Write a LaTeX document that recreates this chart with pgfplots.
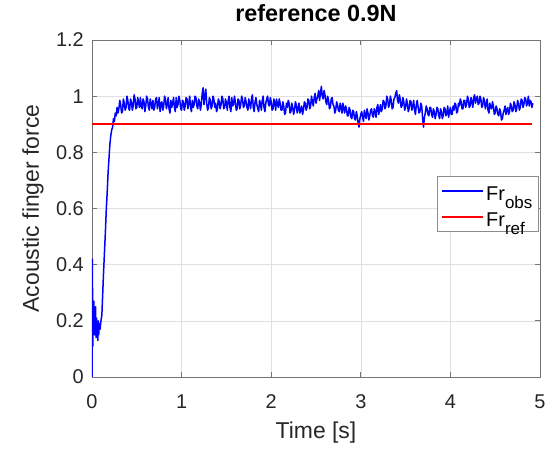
\documentclass[border=0pt]{standalone}
\usepackage{fontspec}
\setmainfont{Liberation Sans}
\usepackage{pgfplots}
\usepackage{pgfplotstable}
\pgfplotsset{compat=1.18}
\definecolor{mblue}{RGB}{0,0,255}
\definecolor{mred}{RGB}{255,0,0}
\pgfplotsset{legend image code/.code={\draw[#1] (0bp,0bp) -- (41bp,0bp);}}
\pgfplotstableread{
t y
0 0
0.003 0.42
0.006 0.3
0.009 0.11
0.012 0.24
0.016 0.18
0.02 0.27
0.025 0.15
0.03 0.22
0.035 0.17
0.04 0.25
0.045 0.14
0.05 0.21
0.055 0.16
0.06 0.19
0.065 0.13
0.07 0.2
0.075 0.15
0.08 0.19
0.09 0.17
0.10 0.2
0.11 0.22
0.12 0.3
0.13 0.38
0.14 0.45
0.15 0.52
0.16 0.6
0.17 0.66
0.18 0.73
0.19 0.78
0.20 0.83
0.21 0.86
0.22 0.88
0.23 0.89
0.24 0.92
0.25 0.91
0.26 0.94
0.27 0.93
0.28 0.96
0.29 0.94
0.30 0.955
0.31 0.985
0.32 0.97
0.33 0.94
0.34 0.945
0.35 0.99
0.36 0.975
0.37 0.95
0.38 0.96
0.39 1.0
0.40 0.985
0.41 0.955
0.42 0.95
0.43 0.99
0.44 0.98
0.45 0.95
0.46 0.965
0.47 1.005
0.48 0.99
0.49 0.955
0.50 0.96
0.51 0.995
0.52 0.975
0.53 0.96
0.54 0.995
0.55 0.965
0.56 0.955
0.57 0.99
0.58 0.98
0.59 0.945
0.60 0.965
0.61 1.0
0.62 0.99
0.63 0.96
0.64 0.95
0.65 0.99
0.66 0.975
0.67 0.955
0.68 0.985
0.69 0.95
0.70 0.96
0.71 0.99
0.72 0.995
0.73 0.955
0.74 0.97
0.75 0.995
0.76 0.945
0.77 0.975
0.78 0.98
0.79 0.95
0.80 0.965
0.81 1.0
0.82 0.99
0.83 0.955
0.84 0.97
0.85 0.995
0.86 0.955
0.87 0.94
0.88 0.985
0.89 0.96
0.90 0.975
0.91 0.995
0.92 0.96
0.93 0.945
0.94 0.995
0.95 0.96
0.96 0.97
0.97 1.0
0.98 0.985
0.99 0.955
1.00 0.95
1.01 0.985
1.02 0.98
1.03 0.95
1.04 0.965
1.05 0.995
1.06 0.99
1.07 0.955
1.08 0.975
1.09 1.0
1.10 0.96
1.11 0.945
1.12 0.985
1.13 0.96
1.14 0.97
1.15 1.0
1.16 0.995
1.17 0.965
1.18 0.955
1.19 0.99
1.20 0.98
1.21 0.95
1.22 0.97
1.23 1.01
1.24 1.03
1.25 0.97
1.26 1.0
1.27 1.025
1.28 0.975
1.29 0.95
1.30 0.96
1.31 0.995
1.32 0.985
1.33 0.955
1.34 0.965
1.35 1.0
1.36 0.99
1.37 0.96
1.38 0.975
1.39 0.945
1.40 0.955
1.41 0.99
1.42 0.98
1.43 0.955
1.44 0.97
1.45 1.0
1.46 0.99
1.47 0.955
1.48 0.96
1.49 0.99
1.50 0.975
1.51 0.95
1.52 0.985
1.53 1.0
1.54 0.96
1.55 0.945
1.56 0.995
1.57 0.965
1.58 0.97
1.59 1.0
1.60 0.98
1.61 0.95
1.62 0.955
1.63 0.99
1.64 0.985
1.65 0.955
1.66 0.97
1.67 1.0
1.68 0.99
1.69 0.96
1.70 0.965
1.71 0.995
1.72 0.98
1.73 0.96
1.74 0.95
1.75 0.99
1.76 0.975
1.77 0.955
1.78 0.99
1.79 1.005
1.80 0.96
1.81 0.945
1.82 0.98
1.83 0.995
1.84 0.97
1.85 0.955
1.86 0.945
1.87 0.985
1.88 0.975
1.89 0.95
1.90 0.985
1.91 1.0
1.92 0.96
1.93 0.945
1.94 0.975
1.95 0.99
1.96 1.0
1.97 0.97
1.98 0.965
1.99 0.995
2.00 0.98
2.01 0.95
2.02 0.955
2.03 0.99
2.04 0.975
2.05 0.95
2.06 0.99
2.07 0.97
2.08 0.96
2.09 0.99
2.10 0.975
2.11 0.95
2.12 0.95
2.13 0.98
2.14 0.965
2.15 0.935
2.16 0.94
2.17 0.975
2.18 0.96
2.19 0.985
2.20 0.975
2.21 0.94
2.22 0.945
2.23 0.975
2.24 0.96
2.25 0.935
2.26 0.95
2.27 0.98
2.28 0.97
2.29 0.94
2.30 0.955
2.31 0.975
2.32 0.94
2.33 0.95
2.34 0.965
2.35 0.935
2.36 0.95
2.37 0.98
2.38 0.975
2.39 0.95
2.40 0.96
2.41 0.99
2.42 0.985
2.43 0.955
2.44 0.965
2.45 1.0
2.46 0.98
2.47 0.965
2.48 0.995
2.49 1.01
2.50 0.975
2.51 0.99
2.52 1.0
2.53 1.02
2.54 0.985
2.55 1.01
2.56 1.035
2.57 1.0
2.58 0.99
2.59 1.02
2.60 1.005
2.61 0.98
2.62 0.97
2.63 1.0
2.64 0.985
2.65 0.955
2.66 0.96
2.67 0.99
2.68 0.995
2.69 0.97
2.70 0.965
2.71 0.94
2.72 0.95
2.73 0.98
2.74 0.97
2.75 0.95
2.76 0.945
2.77 0.975
2.78 0.96
2.79 0.94
2.80 0.975
2.81 0.955
2.82 0.94
2.83 0.965
2.84 0.955
2.85 0.93
2.86 0.93
2.87 0.96
2.88 0.95
2.89 0.925
2.90 0.92
2.91 0.95
2.92 0.945
2.93 0.92
2.94 0.915
2.95 0.945
2.96 0.93
2.97 0.905
2.98 0.89
2.99 0.92
3.00 0.935
3.01 0.945
3.02 0.925
3.03 0.91
3.04 0.95
3.05 0.935
3.06 0.92
3.07 0.955
3.08 0.94
3.09 0.915
3.10 0.93
3.11 0.95
3.12 0.955
3.13 0.93
3.14 0.925
3.15 0.955
3.16 0.945
3.17 0.925
3.18 0.96
3.19 0.97
3.20 0.935
3.21 0.95
3.22 0.97
3.23 0.945
3.24 0.955
3.25 0.985
3.26 0.98
3.27 0.955
3.28 0.965
3.29 1.0
3.30 0.99
3.31 0.96
3.32 0.97
3.33 1.0
3.34 0.985
3.35 0.955
3.36 0.96
3.37 0.99
3.38 0.995
3.39 1.01
3.40 1.02
3.41 0.985
3.42 0.975
3.43 1.005
3.44 0.99
3.45 0.96
3.46 0.965
3.47 0.995
3.48 0.98
3.49 0.95
3.50 0.96
3.51 0.99
3.52 0.975
3.53 0.945
3.54 0.955
3.55 0.985
3.56 0.98
3.57 0.95
3.58 0.965
3.59 0.985
3.60 0.95
3.61 0.935
3.62 0.97
3.63 0.985
3.64 0.96
3.65 0.94
3.66 0.945
3.67 0.975
3.68 0.965
3.69 0.92
3.70 0.89
3.71 0.925
3.72 0.94
3.73 0.965
3.74 0.955
3.75 0.935
3.76 0.93
3.77 0.96
3.78 0.96
3.79 0.935
3.80 0.925
3.81 0.955
3.82 0.945
3.83 0.92
3.84 0.935
3.85 0.96
3.86 0.955
3.87 0.93
3.88 0.92
3.89 0.955
3.90 0.945
3.91 0.92
3.92 0.93
3.93 0.96
3.94 0.955
3.95 0.93
3.96 0.94
3.97 0.965
3.98 0.925
3.99 0.945
4.00 0.96
4.01 0.935
4.02 0.935
4.03 0.965
4.04 0.95
4.05 0.975
4.06 0.97
4.07 0.94
4.08 0.945
4.09 0.975
4.10 0.965
4.11 0.99
4.12 0.98
4.13 0.955
4.14 0.955
4.15 0.985
4.16 0.985
4.17 0.96
4.18 0.97
4.19 1.0
4.20 0.99
4.21 0.96
4.22 0.965
4.23 0.995
4.24 0.98
4.25 0.96
4.26 0.995
4.27 1.005
4.28 0.975
4.29 0.99
4.30 1.0
4.31 0.97
4.32 0.975
4.33 1.0
4.34 0.99
4.35 0.96
4.36 0.965
4.37 0.995
4.38 0.985
4.39 0.955
4.40 0.97
4.41 0.99
4.42 0.95
4.43 0.94
4.44 0.975
4.45 0.96
4.46 0.955
4.47 0.98
4.48 0.965
4.49 0.935
4.50 0.94
4.51 0.965
4.52 0.955
4.53 0.935
4.54 0.93
4.55 0.955
4.56 0.945
4.57 0.915
4.58 0.92
4.59 0.94
4.60 0.95
4.61 0.965
4.62 0.935
4.63 0.95
4.64 0.96
4.65 0.935
4.66 0.945
4.67 0.975
4.68 0.965
4.69 0.945
4.70 0.95
4.71 0.98
4.72 0.97
4.73 0.945
4.74 0.955
4.75 0.985
4.76 0.975
4.77 0.95
4.78 0.96
4.79 0.99
4.80 0.985
4.81 0.96
4.82 0.97
4.83 0.995
4.84 0.99
4.85 0.965
4.86 0.975
4.87 1.0
4.88 0.965
4.89 0.985
4.90 0.98
4.91 0.96
4.92 0.975
}\obs
\pgfplotstableread{
t y
0 0.9
4.91 0.9
}\reftab
\begin{document}
\begin{tikzpicture}
\path (-92bp,-72bp) rectangle (468bp,377bp);
\begin{axis}[
  at={(0,0)}, anchor=south west,
  scale only axis, width=448bp, height=337bp,
  xmin=0, xmax=5, ymin=0, ymax=1.2,
  xtick={0,1,2,3,4,5},
  ytick={0,0.2,0.4,0.6,0.8,1,1.2},
  yticklabels={0,0.2,0.4,0.6,0.8,1,1.2},
  grid=major,
  grid style={line width=0.5bp, draw=black!12},
  axis line style={draw=black!55, line width=0.7bp},
  tick style={draw=black!55, line width=0.7bp},
  tick align=inside, major tick length=5bp,
  /pgf/number format/assume math mode=true,
  tick label style={font=\fontsize{20}{22}\selectfont, text=black!85},
  xticklabel style={anchor=center, inner sep=0pt, yshift=-25bp},
  yticklabel style={anchor=east, inner sep=0pt, xshift=-8bp},
  xlabel={Time [s]},
  ylabel={Acoustic finger force},
  label style={font=\fontsize{23}{26}\selectfont, text=black!85},
  xlabel style={at={(axis description cs:0.5,0)}, anchor=center, yshift=-56bp},
  ylabel style={at={(axis description cs:0,0.5)}, anchor=center, yshift=59bp},
  title={reference 0.9N},
  title style={font=\fontsize{23.5}{26}\selectfont\bfseries, at={(axis description cs:0.5,1)}, anchor=base, yshift=13bp},
  legend style={at={(axis description cs:0.997,0.513)}, anchor=east,
    draw=black!45, line width=0.7bp, fill=white,
    font=\fontsize{20}{22}\selectfont, inner xsep=4bp, inner ysep=2bp,
    cells={anchor=west}},
]
\addplot[draw=mblue, line width=1.5bp, line join=round, legend image post style={draw=mblue, line width=1.8bp}] table[x=t,y=y] {\obs};
\addlegendentry{\rule[-15bp]{0pt}{35bp}Fr\raisebox{-8bp}{\fontsize{17}{18}\selectfont obs}}
\addplot[draw=mred, line width=2.5bp, legend image post style={draw=mred, line width=1.8bp}] table[x=t,y=y] {\reftab};
\addlegendentry{\rule[-15bp]{0pt}{35bp}Fr\raisebox{-8bp}{\fontsize{17}{18}\selectfont ref}}
\end{axis}
\end{tikzpicture}
\end{document}
